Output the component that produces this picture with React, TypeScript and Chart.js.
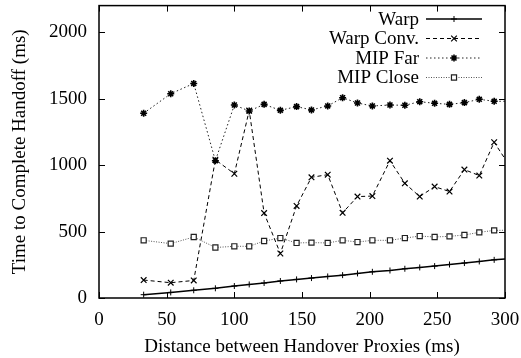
import React, { useEffect, useRef } from "react";
import { Chart, registerables } from "chart.js";
import { drawPoint } from "chart.js/helpers";

Chart.register(...registerables);

const distances = [33, 53, 70, 86, 100, 111, 122, 134, 146, 157, 169, 180, 191, 202, 215, 226, 237, 248, 259, 270, 281, 292, 303];
const warp = [25, 42, 58, 73, 90, 102, 113, 128, 140, 150, 162, 172, 185, 197, 207, 220, 230, 240, 252, 263, 275, 287, 296];
const warpConv = [135, 115, 132, 1040, 935, 1410, 639, 335, 693, 908, 928, 641, 763, 767, 1033, 863, 763, 838, 801, 966, 921, 1172, 1000];
const mipFar = [1390, 1537, 1614, 1033, 1452, 1407, 1457, 1412, 1440, 1415, 1445, 1507, 1467, 1445, 1452, 1450, 1477, 1465, 1457, 1470, 1495, 1480, 1480];
const mipClose = [434, 409, 459, 380, 389, 389, 429, 451, 414, 417, 414, 434, 421, 434, 434, 451, 466, 459, 464, 474, 494, 509, 510];

const seriesNames = ["Warp", "Warp Conv.", "MIP Far", "MIP Close"];
const xTicks = [0, 50, 100, 150, 200, 250, 300];
const yTicks = [0, 500, 1000, 1500, 2000];
const xTitle = "Distance between Handover Proxies (ms)";
const yTitle = "Time to Complete Handoff (ms)";

const FONT = "'Liberation Serif', 'Times New Roman', serif";
const FS = 19;

const toPoints = (ys: number[]) => ys.map((y, i) => ({ x: distances[i], y }));

const frameAndLegend = {
  id: "frameAndLegend",
  afterDatasetsDraw(chart: any) {
    const { ctx, chartArea: a, scales } = chart;
    ctx.save();
    ctx.strokeStyle = "#000";
    ctx.lineWidth = 1;
    ctx.setLineDash([]);
    const tl = 6;
    ctx.beginPath();
    xTicks.forEach((v) => {
      const px = Math.round(scales.x.getPixelForValue(v)) + 0.5;
      ctx.moveTo(px, a.bottom);
      ctx.lineTo(px, a.bottom - tl);
      ctx.moveTo(px, a.top);
      ctx.lineTo(px, a.top + tl);
    });
    yTicks.forEach((v) => {
      const py = Math.round(scales.y.getPixelForValue(v)) + 0.5;
      ctx.moveTo(a.left, py);
      ctx.lineTo(a.left + tl, py);
      ctx.moveTo(a.right, py);
      ctx.lineTo(a.right - tl, py);
    });
    ctx.stroke();
    ctx.lineWidth = 1.5;
    ctx.strokeRect(a.left, a.top, a.right - a.left, a.bottom - a.top);

    // legend
    const textRight = 419;
    const lineStart = 426;
    const lineEnd = 482;
    chart.data.datasets.forEach((ds: any, i: number) => {
      const y = 19 + i * 19.5;
      ctx.font = `${FS}px ${FONT}`;
      ctx.fillStyle = "#000";
      ctx.textAlign = "right";
      ctx.textBaseline = "middle";
      ctx.fillText(ds.label, textRight, y + 1);
      ctx.strokeStyle = ds.borderColor;
      ctx.lineWidth = ds.borderWidth;
      ctx.setLineDash(ds.borderDash || []);
      ctx.beginPath();
      ctx.moveTo(lineStart, y);
      ctx.lineTo(lineEnd, y);
      ctx.stroke();
      ctx.setLineDash([]);
      ctx.strokeStyle = ds.pointBorderColor;
      ctx.fillStyle = ds.pointBackgroundColor;
      ctx.lineWidth = ds.pointBorderWidth;
      drawPoint(ctx, { pointStyle: ds.pointStyle, radius: ds.pointRadius, rotation: 0, borderWidth: ds.pointBorderWidth }, (lineStart + lineEnd) / 2, y);
    });
    ctx.restore();
  },
};

export default function App() {
  const ref = useRef<HTMLCanvasElement | null>(null);
  useEffect(() => {
    if (!ref.current) return;
    const chart = new Chart(ref.current, {
      type: "scatter",
      data: {
        datasets: [
          {
            label: seriesNames[0],
            data: toPoints(warp),
            showLine: true,
            borderColor: "#000",
            borderWidth: 1.5,
            pointStyle: "cross",
            pointRadius: 3,
            pointBorderWidth: 1,
            pointBorderColor: "#000",
            pointBackgroundColor: "#000",
            clip: 0,
          },
          {
            label: seriesNames[1],
            data: toPoints(warpConv),
            showLine: true,
            borderColor: "#000",
            borderWidth: 1,
            borderDash: [4, 3],
            pointStyle: "crossRot",
            pointRadius: 4,
            pointBorderWidth: 1.2,
            pointBorderColor: "#000",
            pointBackgroundColor: "#000",
            clip: 0,
          },
          {
            label: seriesNames[2],
            data: toPoints(mipFar),
            showLine: true,
            borderColor: "#222",
            borderWidth: 1,
            borderDash: [1.5, 2.5],
            pointStyle: "star",
            pointRadius: 3.5,
            pointBorderWidth: 1.6,
            pointBorderColor: "#000",
            pointBackgroundColor: "#000",
            clip: 0,
          },
          {
            label: seriesNames[3],
            data: toPoints(mipClose),
            showLine: true,
            borderColor: "#555",
            borderWidth: 1,
            borderDash: [1, 1.5],
            pointStyle: "rect",
            pointRadius: 3.6,
            pointBorderWidth: 1.2,
            pointBorderColor: "#222",
            pointBackgroundColor: "#fff",
            clip: 0,
          },
        ],
      },
      options: {
        animation: false,
        responsive: false,
        events: [],
        layout: { padding: { top: 4, right: 16, bottom: 0, left: 0 } },
        plugins: { legend: { display: false }, tooltip: { enabled: false } },
        scales: {
          x: {
            type: "linear",
            min: 0,
            max: 300,
            grid: { display: false, drawTicks: false },
            border: { display: false },
            afterBuildTicks: (s: any) => {
              s.ticks = xTicks.map((v) => ({ value: v }));
            },
            afterFit: (s: any) => {
              s.height = 60;
              s.paddingLeft = 0;
              s.paddingRight = 0;
            },
            ticks: {
              color: "#000",
              padding: 10.5,
              maxRotation: 0,
              autoSkip: false,
              callback: (v: any) => String(v),
              font: { family: FONT, size: FS },
            },
            title: {
              display: true,
              text: xTitle,
              color: "#000",
              padding: { top: 0, bottom: 0 },
              font: { family: FONT, size: FS },
            },
          },
          y: {
            type: "linear",
            min: 0,
            max: 2200,
            grid: { display: false, drawTicks: false },
            border: { display: false },
            afterBuildTicks: (s: any) => {
              s.ticks = yTicks.map((v) => ({ value: v }));
            },
            afterFit: (s: any) => {
              s.width = 99;
              s.paddingTop = 0;
              s.paddingBottom = 0;
            },
            ticks: {
              color: "#000",
              padding: 12,
              autoSkip: false,
              callback: (v: any) => String(v),
              font: { family: FONT, size: FS },
            },
            title: {
              display: true,
              text: yTitle,
              color: "#000",
              padding: { top: 9, bottom: 0 },
              font: { family: FONT, size: FS },
            },
          },
        },
      },
      plugins: [frameAndLegend],
    } as any);
    return () => chart.destroy();
  }, []);
  return (
    <div style={{ position: "absolute", left: 0, top: 0, width: 521, height: 358, background: "#fff" }}>
      <canvas ref={ref} width={521} height={358} style={{ display: "block" }} />
    </div>
  );
}
